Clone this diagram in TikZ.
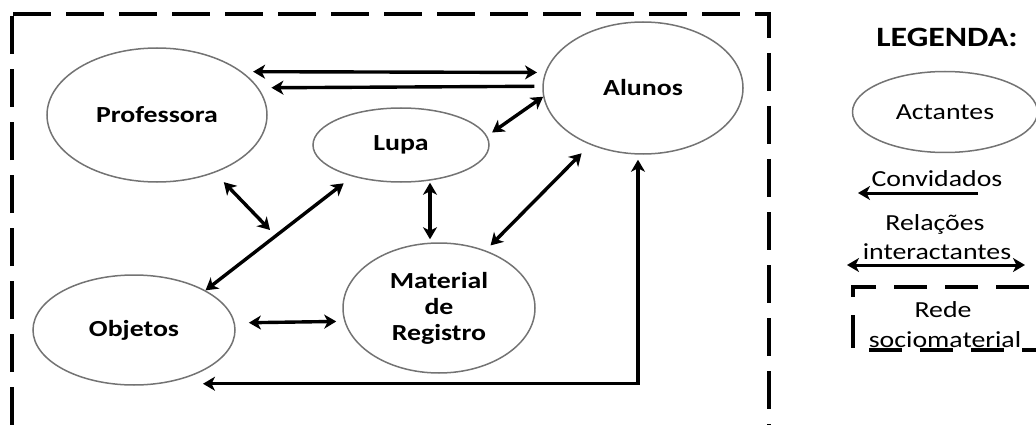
\documentclass[tikz,border=0pt]{standalone}
\usepackage{fontspec}
\setmainfont{Carlito}[FakeStretch=1.21]
\usetikzlibrary{arrows.meta,shapes.geometric,calc}
\begin{document}
\begin{tikzpicture}[x=1pt,y=-1pt,
  actor/.style={ellipse,draw=black!55,line width=1.5pt,inner sep=0pt,align=center,
    font=\fontsize{23}{26}\selectfont\bfseries},
  link/.style={line width=3.4pt,{Stealth[length=12pt,width=14pt,inset=3.5pt]}-{Stealth[length=12pt,width=14pt,inset=3.5pt]}},
  onelink/.style={line width=3.4pt,-{Stealth[length=12pt,width=14pt,inset=3.5pt]}},
  border/.style={line width=4.5pt,dash pattern=on 38pt off 15pt},
  legtext/.style={font=\fontsize{23}{26}\selectfont,inner sep=0pt,anchor=base},
]
\useasboundingbox (0,0) rectangle (1036,425);
\clip (0,0) rectangle (1036,425);

% network border
\draw[border] (13,14) -- (769,14) -- (769,470) -- (12,470) -- (12,14);

% actors
\node[actor,minimum width=220pt,minimum height=134pt] (prof) at (157,115) {Professora};
\node[actor,minimum width=176pt,minimum height=74pt] (lupa) at (401,145) {Lupa};
\node[actor,minimum width=200pt,minimum height=132pt] (alunos) at (643,88) {Alunos};
\node[actor,minimum width=202pt,minimum height=110pt] (obj) at (134,330) {Objetos};
\node[actor,minimum width=192pt,minimum height=130pt] (mat) at (439,308) {Material\\de\\Registro};
\coordinate (pf) at (270,230);

% relations
\draw[link,shorten <=11pt,shorten >=8pt] (prof.27) -- (alunos.171);
\draw[onelink,shorten <=8pt,shorten >=13pt] (alunos.179.4) -- (prof.15.6);
\draw[link,shorten <=6pt] (lupa.6) -- (alunos.185);
\draw[link,shorten <=13pt] (prof.-45) -- (pf);
\draw[link,shorten <=11pt] (lupa.213.5) -- (obj.29.5);
\draw[link,shorten >=3pt] ([xshift=29pt]lupa.south) -- ([xshift=-9pt]mat.north);
\draw[link,shorten <=12pt,shorten >=7pt] (alunos.227) -- (mat.51);
\draw[link,shorten <=14pt,shorten >=8pt] (obj.4.6) -- (mat.188.5);
\draw[link] ([xshift=-5pt,yshift=-5pt]alunos.south) |- ([xshift=69pt,yshift=2pt]obj.south);

% legend
\node[font=\fontsize{28}{30}\selectfont\bfseries,inner sep=0pt,anchor=base] (leg) at (947,47) {LEGENDA:};
\node[actor,font=\fontsize{23}{26}\selectfont,minimum width=185pt,minimum height=81pt] (act) at (945,112) {Actantes};
\node[legtext] (conv) at (937,186) {Convidados};
\coordinate (c1) at (978,193);
\coordinate (c2) at (858,193);
\draw[onelink,line width=3pt] (c1) -- (c2);
\node[legtext] (rel) at (935,230) {Relações};
\node[legtext] (inter) at (937,259) {interactantes};
\coordinate (r1) at (847,265);
\coordinate (r2) at (1025,265);
\draw[link,line width=3pt] (r1) -- (r2);
\draw[line width=4.5pt,dash pattern=on 33pt off 18pt] (1080,287) -- (853,287) -- (853,350) -- (1080,350);
\node[legtext] (rede) at (943,317) {Rede};
\node[legtext] (socio) at (945,347) {sociomaterial};
\end{tikzpicture}
\end{document}
